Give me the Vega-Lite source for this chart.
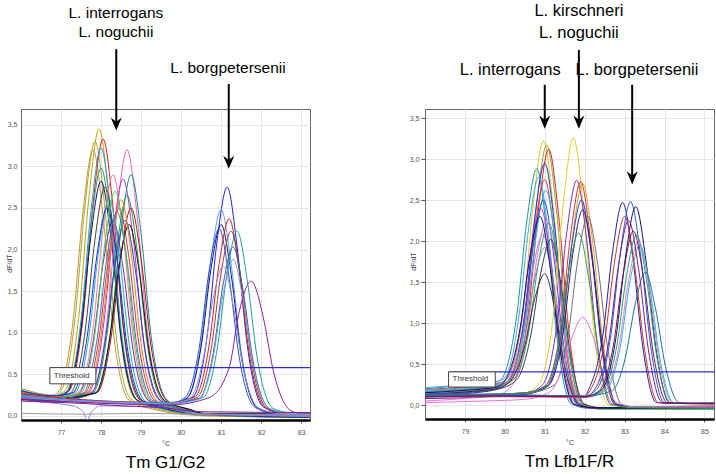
{
  "$schema": "https://vega.github.io/schema/vega-lite/v6.json",
  "background": "white",
  "padding": {"left": 4, "top": 2, "right": 0, "bottom": 0},
  "config": {
    "font": "Liberation Sans",
    "view": {"stroke": "#6a6a6a", "strokeWidth": 1},
    "axis": {"labelFont": "Liberation Sans", "labelFontSize": 7, "labelColor": "#555555", "gridColor": "#e6e6e6", "gridWidth": 1, "tickColor": "#555555", "domainColor": "#6a6a6a", "titleFont": "Liberation Sans", "titleFontWeight": "normal", "titleFontSize": 7, "titleColor": "#444444"}
  },
  "resolve": {"scale": {"color": "independent"}},
  "spacing": 115,
  "bounds": "flush",
  "datasets": {
    "L": [
      {"c":"a1","x":76.0,"y":0.30},{"c":"a1","x":76.8,"y":0.24},{"c":"a1","x":77.10,"y":0.30},{"c":"a1","x":77.45,"y":1.22},{"c":"a1","x":77.70,"y":2.64},{"c":"a1","x":77.95,"y":3.45},{"c":"a1","x":78.20,"y":2.59},{"c":"a1","x":78.45,"y":1.12},{"c":"a1","x":78.85,"y":0.20},{"c":"a1","x":79.45,"y":0.09},{"c":"a1","x":80.6,"y":0.02},{"c":"a1","x":83.22,"y":0.0},
      {"c":"a2","x":76.0,"y":0.28},{"c":"a2","x":76.8,"y":0.23},{"c":"a2","x":77.00,"y":0.30},{"c":"a2","x":77.35,"y":1.17},{"c":"a2","x":77.60,"y":2.53},{"c":"a2","x":77.85,"y":3.30},{"c":"a2","x":78.10,"y":2.48},{"c":"a2","x":78.35,"y":1.07},{"c":"a2","x":78.75,"y":0.20},{"c":"a2","x":79.35,"y":0.09},{"c":"a2","x":80.6,"y":0.01},{"c":"a2","x":83.22,"y":0.0},
      {"c":"a3","x":76.0,"y":0.33},{"c":"a3","x":76.8,"y":0.25},{"c":"a3","x":76.95,"y":0.30},{"c":"a3","x":77.30,"y":1.14},{"c":"a3","x":77.55,"y":2.46},{"c":"a3","x":77.80,"y":3.20},{"c":"a3","x":78.05,"y":2.41},{"c":"a3","x":78.30,"y":1.04},{"c":"a3","x":78.70,"y":0.19},{"c":"a3","x":79.30,"y":0.08},{"c":"a3","x":80.6,"y":0.0},{"c":"a3","x":83.22,"y":-0.02},
      {"c":"a4","x":76.0,"y":0.27},{"c":"a4","x":76.8,"y":0.22},{"c":"a4","x":77.20,"y":0.30},{"c":"a4","x":77.55,"y":1.18},{"c":"a4","x":77.80,"y":2.55},{"c":"a4","x":78.05,"y":3.33},{"c":"a4","x":78.30,"y":2.50},{"c":"a4","x":78.55,"y":1.08},{"c":"a4","x":78.95,"y":0.20},{"c":"a4","x":79.55,"y":0.09},{"c":"a4","x":80.6,"y":0.02},{"c":"a4","x":83.22,"y":0.01},
      {"c":"a5","x":76.0,"y":0.25},{"c":"a5","x":76.8,"y":0.21},{"c":"a5","x":77.15,"y":0.30},{"c":"a5","x":77.50,"y":1.15},{"c":"a5","x":77.75,"y":2.47},{"c":"a5","x":78.00,"y":3.22},{"c":"a5","x":78.25,"y":2.42},{"c":"a5","x":78.50,"y":1.05},{"c":"a5","x":78.90,"y":0.19},{"c":"a5","x":79.50,"y":0.09},{"c":"a5","x":80.6,"y":0.02},{"c":"a5","x":83.22,"y":0.02},
      {"c":"a6","x":76.0,"y":0.31},{"c":"a6","x":76.8,"y":0.24},{"c":"a6","x":77.15,"y":0.29},{"c":"a6","x":77.50,"y":1.08},{"c":"a6","x":77.75,"y":2.30},{"c":"a6","x":78.00,"y":2.98},{"c":"a6","x":78.25,"y":2.25},{"c":"a6","x":78.50,"y":0.98},{"c":"a6","x":78.90,"y":0.19},{"c":"a6","x":79.50,"y":0.09},{"c":"a6","x":80.6,"y":0.01},{"c":"a6","x":83.22,"y":-0.01},
      {"c":"a7","x":76.0,"y":0.26},{"c":"a7","x":76.8,"y":0.22},{"c":"a7","x":77.15,"y":0.28},{"c":"a7","x":77.50,"y":1.03},{"c":"a7","x":77.75,"y":2.18},{"c":"a7","x":78.00,"y":2.82},{"c":"a7","x":78.25,"y":2.13},{"c":"a7","x":78.50,"y":0.93},{"c":"a7","x":78.90,"y":0.19},{"c":"a7","x":79.50,"y":0.10},{"c":"a7","x":80.6,"y":0.02},{"c":"a7","x":83.22,"y":0.03},
      {"c":"a8","x":76.0,"y":0.22},{"c":"a8","x":76.8,"y":0.20},{"c":"a8","x":77.25,"y":0.28},{"c":"a8","x":77.60,"y":1.01},{"c":"a8","x":77.85,"y":2.13},{"c":"a8","x":78.10,"y":2.75},{"c":"a8","x":78.35,"y":2.08},{"c":"a8","x":78.60,"y":0.91},{"c":"a8","x":79.00,"y":0.19},{"c":"a8","x":79.60,"y":0.10},{"c":"a8","x":80.6,"y":0.02},{"c":"a8","x":83.22,"y":0.0},
      {"c":"a9","x":76.0,"y":0.24},{"c":"a9","x":76.8,"y":0.20},{"c":"a9","x":77.45,"y":0.29},{"c":"a9","x":77.80,"y":1.06},{"c":"a9","x":78.05,"y":2.24},{"c":"a9","x":78.30,"y":2.90},{"c":"a9","x":78.55,"y":2.19},{"c":"a9","x":78.80,"y":0.96},{"c":"a9","x":79.20,"y":0.19},{"c":"a9","x":79.80,"y":0.09},{"c":"a9","x":80.6,"y":0.02},{"c":"a9","x":83.22,"y":-0.01},
      {"c":"a10","x":76.0,"y":0.20},{"c":"a10","x":76.8,"y":0.18},{"c":"a10","x":77.80,"y":0.30},{"c":"a10","x":78.15,"y":1.14},{"c":"a10","x":78.40,"y":2.46},{"c":"a10","x":78.65,"y":3.20},{"c":"a10","x":78.90,"y":2.41},{"c":"a10","x":79.15,"y":1.04},{"c":"a10","x":79.55,"y":0.19},{"c":"a10","x":80.15,"y":0.07},{"c":"a10","x":80.6,"y":0.02},{"c":"a10","x":83.22,"y":0.0},
      {"c":"a11","x":76.0,"y":0.23},{"c":"a11","x":76.8,"y":0.19},{"c":"a11","x":77.70,"y":0.29},{"c":"a11","x":78.05,"y":1.04},{"c":"a11","x":78.30,"y":2.20},{"c":"a11","x":78.55,"y":2.85},{"c":"a11","x":78.80,"y":2.15},{"c":"a11","x":79.05,"y":0.94},{"c":"a11","x":79.45,"y":0.19},{"c":"a11","x":80.05,"y":0.08},{"c":"a11","x":80.6,"y":0.01},{"c":"a11","x":83.22,"y":0.01},
      {"c":"a12","x":76.0,"y":0.21},{"c":"a12","x":76.8,"y":0.17},{"c":"a12","x":77.90,"y":0.29},{"c":"a12","x":78.25,"y":1.06},{"c":"a12","x":78.50,"y":2.24},{"c":"a12","x":78.75,"y":2.90},{"c":"a12","x":79.00,"y":2.19},{"c":"a12","x":79.25,"y":0.96},{"c":"a12","x":79.65,"y":0.19},{"c":"a12","x":80.25,"y":0.06},{"c":"a12","x":80.6,"y":0.02},{"c":"a12","x":83.22,"y":0.02},
      {"c":"a13","x":76.0,"y":0.26},{"c":"a13","x":76.8,"y":0.21},{"c":"a13","x":77.80,"y":0.28},{"c":"a13","x":78.15,"y":0.98},{"c":"a13","x":78.40,"y":2.05},{"c":"a13","x":78.65,"y":2.65},{"c":"a13","x":78.90,"y":2.00},{"c":"a13","x":79.15,"y":0.88},{"c":"a13","x":79.55,"y":0.18},{"c":"a13","x":80.15,"y":0.07},{"c":"a13","x":80.6,"y":0.01},{"c":"a13","x":83.22,"y":-0.02},
      {"c":"a14","x":76.0,"y":0.28},{"c":"a14","x":76.8,"y":0.22},{"c":"a14","x":77.60,"y":0.28},{"c":"a14","x":77.95,"y":0.94},{"c":"a14","x":78.20,"y":1.94},{"c":"a14","x":78.45,"y":2.50},{"c":"a14","x":78.70,"y":1.89},{"c":"a14","x":78.95,"y":0.84},{"c":"a14","x":79.35,"y":0.18},{"c":"a14","x":79.95,"y":0.09},{"c":"a14","x":80.6,"y":0.02},{"c":"a14","x":83.22,"y":0.0},
      {"c":"a15","x":76.0,"y":0.24},{"c":"a15","x":76.8,"y":0.20},{"c":"a15","x":77.90,"y":0.28},{"c":"a15","x":78.25,"y":0.94},{"c":"a15","x":78.50,"y":1.94},{"c":"a15","x":78.75,"y":2.50},{"c":"a15","x":79.00,"y":1.89},{"c":"a15","x":79.25,"y":0.84},{"c":"a15","x":79.65,"y":0.18},{"c":"a15","x":80.25,"y":0.07},{"c":"a15","x":80.6,"y":0.02},{"c":"a15","x":83.22,"y":0.01},
      {"c":"a16","x":76.0,"y":0.20},{"c":"a16","x":76.8,"y":0.16},{"c":"a16","x":77.45,"y":0.27},{"c":"a16","x":77.80,"y":0.89},{"c":"a16","x":78.05,"y":1.83},{"c":"a16","x":78.30,"y":2.35},{"c":"a16","x":78.55,"y":1.78},{"c":"a16","x":78.80,"y":0.79},{"c":"a16","x":79.20,"y":0.18},{"c":"a16","x":79.80,"y":0.10},{"c":"a16","x":80.6,"y":0.02},{"c":"a16","x":83.22,"y":-0.01},
      {"c":"a17","x":76.0,"y":0.22},{"c":"a17","x":76.8,"y":0.18},{"c":"a17","x":77.75,"y":0.27},{"c":"a17","x":78.10,"y":0.89},{"c":"a17","x":78.35,"y":1.83},{"c":"a17","x":78.60,"y":2.35},{"c":"a17","x":78.85,"y":1.78},{"c":"a17","x":79.10,"y":0.79},{"c":"a17","x":79.50,"y":0.18},{"c":"a17","x":80.10,"y":0.08},{"c":"a17","x":80.6,"y":0.02},{"c":"a17","x":83.22,"y":0.02},
      {"c":"a18","x":76.0,"y":0.25},{"c":"a18","x":76.8,"y":0.21},{"c":"a18","x":77.85,"y":0.27},{"c":"a18","x":78.20,"y":0.88},{"c":"a18","x":78.45,"y":1.80},{"c":"a18","x":78.70,"y":2.30},{"c":"a18","x":78.95,"y":1.75},{"c":"a18","x":79.20,"y":0.78},{"c":"a18","x":79.60,"y":0.18},{"c":"a18","x":80.20,"y":0.08},{"c":"a18","x":80.6,"y":0.03},{"c":"a18","x":83.22,"y":0.03},
      {"c":"a19","x":76.0,"y":0.29},{"c":"a19","x":76.8,"y":0.23},{"c":"a19","x":77.65,"y":0.28},{"c":"a19","x":78.00,"y":0.97},{"c":"a19","x":78.25,"y":2.02},{"c":"a19","x":78.50,"y":2.60},{"c":"a19","x":78.75,"y":1.97},{"c":"a19","x":79.00,"y":0.87},{"c":"a19","x":79.40,"y":0.18},{"c":"a19","x":80.00,"y":0.09},{"c":"a19","x":80.6,"y":0.01},{"c":"a19","x":83.22,"y":-0.01},
      {"c":"a20","x":76.0,"y":0.27},{"c":"a20","x":76.8,"y":0.22},{"c":"a20","x":77.35,"y":0.28},{"c":"a20","x":77.70,"y":0.97},{"c":"a20","x":77.95,"y":2.02},{"c":"a20","x":78.20,"y":2.60},{"c":"a20","x":78.45,"y":1.97},{"c":"a20","x":78.70,"y":0.87},{"c":"a20","x":79.10,"y":0.18},{"c":"a20","x":79.70,"y":0.09},{"c":"a20","x":80.6,"y":0.02},{"c":"a20","x":83.22,"y":0.0},
      {"c":"a21","x":76.0,"y":0.23},{"c":"a21","x":76.8,"y":0.19},{"c":"a21","x":77.55,"y":0.27},{"c":"a21","x":77.90,"y":0.92},{"c":"a21","x":78.15,"y":1.91},{"c":"a21","x":78.40,"y":2.45},{"c":"a21","x":78.65,"y":1.86},{"c":"a21","x":78.90,"y":0.82},{"c":"a21","x":79.30,"y":0.18},{"c":"a21","x":79.90,"y":0.10},{"c":"a21","x":80.6,"y":0.02},{"c":"a21","x":83.22,"y":0.01},
      {"c":"a22","x":76.0,"y":0.30},{"c":"a22","x":76.8,"y":0.24},{"c":"a22","x":77.30,"y":0.28},{"c":"a22","x":77.65,"y":0.94},{"c":"a22","x":77.90,"y":1.94},{"c":"a22","x":78.15,"y":2.50},{"c":"a22","x":78.40,"y":1.89},{"c":"a22","x":78.65,"y":0.84},{"c":"a22","x":79.05,"y":0.18},{"c":"a22","x":79.65,"y":0.10},{"c":"a22","x":80.6,"y":0.02},{"c":"a22","x":83.22,"y":-0.02},
      {"c":"a23","x":76.0,"y":0.26},{"c":"a23","x":76.8,"y":0.21},{"c":"a23","x":77.50,"y":0.28},{"c":"a23","x":77.85,"y":1.00},{"c":"a23","x":78.10,"y":2.09},{"c":"a23","x":78.35,"y":2.70},{"c":"a23","x":78.60,"y":2.04},{"c":"a23","x":78.85,"y":0.90},{"c":"a23","x":79.25,"y":0.18},{"c":"a23","x":79.85,"y":0.09},{"c":"a23","x":80.6,"y":0.02},{"c":"a23","x":83.22,"y":0.0},
      {"c":"b1","x":76.0,"y":0.22},{"c":"b1","x":78.0,"y":0.17},{"c":"b1","x":79.7,"y":0.15},{"c":"b1","x":80.30,"y":0.23},{"c":"b1","x":80.65,"y":0.96},{"c":"b1","x":80.90,"y":2.11},{"c":"b1","x":81.15,"y":2.75},{"c":"b1","x":81.40,"y":2.03},{"c":"b1","x":81.65,"y":0.86},{"c":"b1","x":82.05,"y":0.11},{"c":"b1","x":82.55,"y":0.03},{"c":"b1","x":83.22,"y":0.03},
      {"c":"b2","x":76.0,"y":0.25},{"c":"b2","x":78.0,"y":0.18},{"c":"b2","x":79.7,"y":0.15},{"c":"b2","x":80.15,"y":0.22},{"c":"b2","x":80.50,"y":0.88},{"c":"b2","x":80.75,"y":1.91},{"c":"b2","x":81.00,"y":2.48},{"c":"b2","x":81.25,"y":1.83},{"c":"b2","x":81.50,"y":0.78},{"c":"b2","x":81.90,"y":0.10},{"c":"b2","x":82.40,"y":0.03},{"c":"b2","x":83.22,"y":0.02},
      {"c":"b3","x":76.0,"y":0.20},{"c":"b3","x":78.0,"y":0.16},{"c":"b3","x":79.7,"y":0.14},{"c":"b3","x":80.15,"y":0.21},{"c":"b3","x":80.50,"y":0.83},{"c":"b3","x":80.75,"y":1.78},{"c":"b3","x":81.00,"y":2.30},{"c":"b3","x":81.25,"y":1.70},{"c":"b3","x":81.50,"y":0.73},{"c":"b3","x":81.90,"y":0.10},{"c":"b3","x":82.40,"y":0.03},{"c":"b3","x":83.22,"y":0.04},
      {"c":"b4","x":76.0,"y":0.24},{"c":"b4","x":78.0,"y":0.17},{"c":"b4","x":79.7,"y":0.15},{"c":"b4","x":80.10,"y":0.22},{"c":"b4","x":80.45,"y":0.81},{"c":"b4","x":80.70,"y":1.74},{"c":"b4","x":80.95,"y":2.25},{"c":"b4","x":81.20,"y":1.66},{"c":"b4","x":81.45,"y":0.71},{"c":"b4","x":81.85,"y":0.10},{"c":"b4","x":82.35,"y":0.03},{"c":"b4","x":83.22,"y":0.03},
      {"c":"b5","x":76.0,"y":0.27},{"c":"b5","x":78.0,"y":0.18},{"c":"b5","x":79.7,"y":0.16},{"c":"b5","x":80.35,"y":0.23},{"c":"b5","x":80.70,"y":0.85},{"c":"b5","x":80.95,"y":1.83},{"c":"b5","x":81.20,"y":2.37},{"c":"b5","x":81.45,"y":1.75},{"c":"b5","x":81.70,"y":0.75},{"c":"b5","x":82.10,"y":0.10},{"c":"b5","x":82.60,"y":0.03},{"c":"b5","x":83.22,"y":0.02},
      {"c":"b6","x":76.0,"y":0.21},{"c":"b6","x":78.0,"y":0.16},{"c":"b6","x":79.7,"y":0.15},{"c":"b6","x":80.40,"y":0.22},{"c":"b6","x":80.75,"y":0.80},{"c":"b6","x":81.00,"y":1.72},{"c":"b6","x":81.25,"y":2.22},{"c":"b6","x":81.50,"y":1.64},{"c":"b6","x":81.75,"y":0.70},{"c":"b6","x":82.15,"y":0.09},{"c":"b6","x":82.65,"y":0.03},{"c":"b6","x":83.22,"y":0.03},
      {"c":"b7","x":76.0,"y":0.23},{"c":"b7","x":78.0,"y":0.17},{"c":"b7","x":79.7,"y":0.16},{"c":"b7","x":80.55,"y":0.22},{"c":"b7","x":80.90,"y":0.80},{"c":"b7","x":81.15,"y":1.72},{"c":"b7","x":81.40,"y":2.22},{"c":"b7","x":81.65,"y":1.64},{"c":"b7","x":81.90,"y":0.70},{"c":"b7","x":82.30,"y":0.09},{"c":"b7","x":82.80,"y":0.03},{"c":"b7","x":83.22,"y":0.02},
      {"c":"b8","x":76.0,"y":0.25},{"c":"b8","x":78.0,"y":0.17},{"c":"b8","x":79.7,"y":0.15},{"c":"b8","x":80.45,"y":0.21},{"c":"b8","x":80.80,"y":0.75},{"c":"b8","x":81.05,"y":1.58},{"c":"b8","x":81.30,"y":2.03},{"c":"b8","x":81.55,"y":1.50},{"c":"b8","x":81.80,"y":0.65},{"c":"b8","x":82.20,"y":0.09},{"c":"b8","x":82.70,"y":0.03},{"c":"b8","x":83.22,"y":0.03},
      {"c":"b9","x":76.0,"y":0.22},{"c":"b9","x":78.0,"y":0.16},{"c":"b9","x":79.7,"y":0.14},{"c":"b9","x":80.45,"y":0.20},{"c":"b9","x":80.80,"y":0.70},{"c":"b9","x":81.05,"y":1.47},{"c":"b9","x":81.30,"y":1.88},{"c":"b9","x":81.55,"y":1.39},{"c":"b9","x":81.80,"y":0.60},{"c":"b9","x":82.20,"y":0.09},{"c":"b9","x":82.70,"y":0.03},{"c":"b9","x":83.22,"y":0.02},
      {"c":"b10","x":76.0,"y":0.24},{"c":"b10","x":78.0,"y":0.17},{"c":"b10","x":79.7,"y":0.15},{"c":"b10","x":80.20,"y":0.20},{"c":"b10","x":80.55,"y":0.68},{"c":"b10","x":80.80,"y":1.41},{"c":"b10","x":81.05,"y":1.80},{"c":"b10","x":81.30,"y":1.33},{"c":"b10","x":81.55,"y":0.58},{"c":"b10","x":81.95,"y":0.09},{"c":"b10","x":82.45,"y":0.03},{"c":"b10","x":83.22,"y":0.02},
      {"c":"b11","x":76.0,"y":0.20},{"c":"b11","x":78.0,"y":0.15},{"c":"b11","x":79.7,"y":0.13},{"c":"b11","x":80.70,"y":0.22},{"c":"b11","x":81.20,"y":0.58},{"c":"b11","x":81.45,"y":1.25},{"c":"b11","x":81.75,"y":1.62},{"c":"b11","x":82.05,"y":1.19},{"c":"b11","x":82.30,"y":0.55},{"c":"b11","x":82.75,"y":0.06},{"c":"b11","x":83.0,"y":0.03},{"c":"b11","x":83.22,"y":0.03},
      {"c":"g1","x":76.0,"y":0.03},{"c":"g1","x":77.5,"y":0.02},{"c":"g1","x":79.0,"y":0.03},{"c":"g1","x":80.5,"y":0.02},{"c":"g1","x":83.22,"y":0.02},
      {"c":"g2","x":76.0,"y":0.18},{"c":"g2","x":77.3,"y":0.12},{"c":"g2","x":77.55,"y":0.05},{"c":"g2","x":77.65,"y":-0.05},{"c":"g2","x":77.75,"y":0.04},{"c":"g2","x":78.0,"y":0.12},{"c":"g2","x":79.5,"y":0.10},{"c":"g2","x":80.5,"y":0.02},{"c":"g2","x":83.22,"y":0.0},
      {"c":"g3","x":76.0,"y":0.18},{"c":"g3","x":77.5,"y":0.15},{"c":"g3","x":78.5,"y":0.12},{"c":"g3","x":79.5,"y":0.10},{"c":"g3","x":80.5,"y":0.05},{"c":"g3","x":83.22,"y":0.04}
    ],
    "R": [
      {"c":"p1","x":78.0,"y":0.18},{"c":"p1","x":79.0,"y":0.22},{"c":"p1","x":79.8,"y":0.26},{"c":"p1","x":80.12,"y":0.35},{"c":"p1","x":80.47,"y":1.20},{"c":"p1","x":80.72,"y":2.49},{"c":"p1","x":80.97,"y":3.22},{"c":"p1","x":81.22,"y":2.37},{"c":"p1","x":81.47,"y":0.95},{"c":"p1","x":81.82,"y":0.02},{"c":"p1","x":82.27,"y":-0.03},{"c":"p1","x":85.24,"y":-0.04},
      {"c":"p2","x":78.0,"y":0.16},{"c":"p2","x":79.0,"y":0.20},{"c":"p2","x":79.8,"y":0.24},{"c":"p2","x":80.20,"y":0.34},{"c":"p2","x":80.55,"y":1.19},{"c":"p2","x":80.80,"y":2.46},{"c":"p2","x":81.05,"y":3.17},{"c":"p2","x":81.30,"y":2.34},{"c":"p2","x":81.55,"y":0.94},{"c":"p2","x":81.90,"y":0.02},{"c":"p2","x":82.35,"y":-0.04},{"c":"p2","x":85.24,"y":-0.05},
      {"c":"p3","x":78.0,"y":0.15},{"c":"p3","x":79.0,"y":0.18},{"c":"p3","x":79.8,"y":0.22},{"c":"p3","x":80.25,"y":0.33},{"c":"p3","x":80.60,"y":1.17},{"c":"p3","x":80.85,"y":2.42},{"c":"p3","x":81.10,"y":3.12},{"c":"p3","x":81.35,"y":2.30},{"c":"p3","x":81.60,"y":0.92},{"c":"p3","x":81.95,"y":0.02},{"c":"p3","x":82.40,"y":-0.03},{"c":"p3","x":85.24,"y":-0.03},
      {"c":"p4","x":78.0,"y":0.20},{"c":"p4","x":79.0,"y":0.24},{"c":"p4","x":79.8,"y":0.28},{"c":"p4","x":79.95,"y":0.34},{"c":"p4","x":80.30,"y":1.10},{"c":"p4","x":80.55,"y":2.24},{"c":"p4","x":80.80,"y":2.88},{"c":"p4","x":81.05,"y":2.12},{"c":"p4","x":81.30,"y":0.85},{"c":"p4","x":81.65,"y":0.02},{"c":"p4","x":82.10,"y":-0.04},{"c":"p4","x":85.24,"y":-0.04},
      {"c":"p5","x":78.0,"y":0.13},{"c":"p5","x":79.0,"y":0.16},{"c":"p5","x":79.8,"y":0.21},{"c":"p5","x":80.15,"y":0.34},{"c":"p5","x":80.50,"y":1.12},{"c":"p5","x":80.75,"y":2.29},{"c":"p5","x":81.00,"y":2.95},{"c":"p5","x":81.25,"y":2.17},{"c":"p5","x":81.50,"y":0.87},{"c":"p5","x":81.85,"y":0.02},{"c":"p5","x":82.30,"y":-0.03},{"c":"p5","x":85.24,"y":-0.03},
      {"c":"p6","x":78.0,"y":0.21},{"c":"p6","x":79.0,"y":0.25},{"c":"p6","x":79.8,"y":0.29},{"c":"p6","x":80.00,"y":0.33},{"c":"p6","x":80.35,"y":1.07},{"c":"p6","x":80.60,"y":2.17},{"c":"p6","x":80.85,"y":2.78},{"c":"p6","x":81.10,"y":2.05},{"c":"p6","x":81.35,"y":0.82},{"c":"p6","x":81.70,"y":0.02},{"c":"p6","x":82.15,"y":-0.04},{"c":"p6","x":85.24,"y":-0.04},
      {"c":"p7","x":78.0,"y":0.14},{"c":"p7","x":79.0,"y":0.17},{"c":"p7","x":79.8,"y":0.22},{"c":"p7","x":80.15,"y":0.33},{"c":"p7","x":80.50,"y":1.06},{"c":"p7","x":80.75,"y":2.15},{"c":"p7","x":81.00,"y":2.75},{"c":"p7","x":81.25,"y":2.03},{"c":"p7","x":81.50,"y":0.81},{"c":"p7","x":81.85,"y":0.01},{"c":"p7","x":82.30,"y":-0.03},{"c":"p7","x":85.24,"y":-0.03},
      {"c":"p8","x":78.0,"y":0.17},{"c":"p8","x":79.0,"y":0.20},{"c":"p8","x":79.8,"y":0.24},{"c":"p8","x":80.18,"y":0.33},{"c":"p8","x":80.53,"y":1.02},{"c":"p8","x":80.78,"y":2.05},{"c":"p8","x":81.03,"y":2.62},{"c":"p8","x":81.28,"y":1.93},{"c":"p8","x":81.53,"y":0.77},{"c":"p8","x":81.88,"y":0.01},{"c":"p8","x":82.33,"y":-0.04},{"c":"p8","x":85.24,"y":-0.04},
      {"c":"p9","x":78.0,"y":0.12},{"c":"p9","x":79.0,"y":0.15},{"c":"p9","x":79.8,"y":0.20},{"c":"p9","x":80.12,"y":0.32},{"c":"p9","x":80.47,"y":0.99},{"c":"p9","x":80.72,"y":1.96},{"c":"p9","x":80.97,"y":2.50},{"c":"p9","x":81.22,"y":1.84},{"c":"p9","x":81.47,"y":0.74},{"c":"p9","x":81.82,"y":0.01},{"c":"p9","x":82.27,"y":-0.03},{"c":"p9","x":85.24,"y":-0.02},
      {"c":"p10","x":78.0,"y":0.19},{"c":"p10","x":79.0,"y":0.22},{"c":"p10","x":79.8,"y":0.26},{"c":"p10","x":80.05,"y":0.32},{"c":"p10","x":80.40,"y":0.96},{"c":"p10","x":80.65,"y":1.89},{"c":"p10","x":80.90,"y":2.40},{"c":"p10","x":81.15,"y":1.77},{"c":"p10","x":81.40,"y":0.71},{"c":"p10","x":81.75,"y":0.01},{"c":"p10","x":82.20,"y":-0.04},{"c":"p10","x":85.24,"y":-0.04},
      {"c":"p11","x":78.0,"y":0.05},{"c":"p11","x":79.0,"y":0.08},{"c":"p11","x":79.8,"y":0.12},{"c":"p11","x":80.20,"y":0.25},{"c":"p11","x":80.55,"y":0.85},{"c":"p11","x":80.80,"y":1.78},{"c":"p11","x":81.05,"y":2.25},{"c":"p11","x":81.30,"y":1.66},{"c":"p11","x":81.55,"y":0.66},{"c":"p11","x":81.90,"y":0.01},{"c":"p11","x":82.35,"y":-0.03},{"c":"p11","x":85.24,"y":-0.03},
      {"c":"p12","x":78.0,"y":0.16},{"c":"p12","x":79.0,"y":0.19},{"c":"p12","x":79.8,"y":0.23},{"c":"p12","x":80.25,"y":0.32},{"c":"p12","x":80.60,"y":0.90},{"c":"p12","x":80.85,"y":1.76},{"c":"p12","x":81.10,"y":2.22},{"c":"p12","x":81.35,"y":1.64},{"c":"p12","x":81.60,"y":0.65},{"c":"p12","x":81.95,"y":0.01},{"c":"p12","x":82.40,"y":-0.05},{"c":"p12","x":85.24,"y":-0.05},
      {"c":"p13","x":78.0,"y":0.14},{"c":"p13","x":79.0,"y":0.17},{"c":"p13","x":79.8,"y":0.21},{"c":"p13","x":80.10,"y":0.31},{"c":"p13","x":80.45,"y":0.86},{"c":"p13","x":80.70,"y":1.65},{"c":"p13","x":80.95,"y":2.08},{"c":"p13","x":81.20,"y":1.53},{"c":"p13","x":81.45,"y":0.61},{"c":"p13","x":81.80,"y":0.01},{"c":"p13","x":82.25,"y":-0.03},{"c":"p13","x":85.24,"y":-0.03},
      {"c":"p14","x":78.0,"y":0.11},{"c":"p14","x":79.0,"y":0.14},{"c":"p14","x":79.8,"y":0.19},{"c":"p14","x":80.30,"y":0.31},{"c":"p14","x":80.65,"y":0.85},{"c":"p14","x":80.90,"y":1.61},{"c":"p14","x":81.15,"y":2.02},{"c":"p14","x":81.40,"y":1.49},{"c":"p14","x":81.65,"y":0.60},{"c":"p14","x":82.00,"y":0.01},{"c":"p14","x":82.45,"y":-0.04},{"c":"p14","x":85.24,"y":-0.04},
      {"c":"p15","x":78.0,"y":0.18},{"c":"p15","x":79.0,"y":0.21},{"c":"p15","x":79.8,"y":0.25},{"c":"p15","x":80.15,"y":0.31},{"c":"p15","x":80.50,"y":0.82},{"c":"p15","x":80.75,"y":1.54},{"c":"p15","x":81.00,"y":1.92},{"c":"p15","x":81.25,"y":1.42},{"c":"p15","x":81.50,"y":0.57},{"c":"p15","x":81.85,"y":0.01},{"c":"p15","x":82.30,"y":-0.03},{"c":"p15","x":85.24,"y":-0.03},
      {"c":"p16","x":78.0,"y":0.13},{"c":"p16","x":79.0,"y":0.16},{"c":"p16","x":79.8,"y":0.20},{"c":"p16","x":80.15,"y":0.30},{"c":"p16","x":80.50,"y":0.72},{"c":"p16","x":80.75,"y":1.30},{"c":"p16","x":81.00,"y":1.60},{"c":"p16","x":81.25,"y":1.18},{"c":"p16","x":81.50,"y":0.47},{"c":"p16","x":81.85,"y":0.01},{"c":"p16","x":82.30,"y":-0.04},{"c":"p16","x":85.24,"y":-0.04},
      {"c":"p17","x":78.0,"y":0.15},{"c":"p17","x":79.0,"y":0.18},{"c":"p17","x":79.8,"y":0.22},{"c":"p17","x":80.03,"y":0.32},{"c":"p17","x":80.38,"y":0.93},{"c":"p17","x":80.63,"y":1.82},{"c":"p17","x":80.88,"y":2.30},{"c":"p17","x":81.13,"y":1.70},{"c":"p17","x":81.38,"y":0.68},{"c":"p17","x":81.73,"y":0.01},{"c":"p17","x":82.18,"y":-0.03},{"c":"p17","x":85.24,"y":-0.03},
      {"c":"q1","x":78.0,"y":0.10},{"c":"q1","x":79.5,"y":0.12},{"c":"q1","x":80.5,"y":0.15},{"c":"q1","x":80.87,"y":0.27},{"c":"q1","x":81.22,"y":1.11},{"c":"q1","x":81.47,"y":2.48},{"c":"q1","x":81.72,"y":3.26},{"c":"q1","x":81.97,"y":2.40},{"c":"q1","x":82.22,"y":0.96},{"c":"q1","x":82.57,"y":0.01},{"c":"q1","x":83.02,"y":-0.02},{"c":"q1","x":85.24,"y":-0.02},
      {"c":"q2","x":78.0,"y":0.09},{"c":"q2","x":79.5,"y":0.11},{"c":"q2","x":80.5,"y":0.14},{"c":"q2","x":80.95,"y":0.25},{"c":"q2","x":81.30,"y":0.96},{"c":"q2","x":81.55,"y":2.10},{"c":"q2","x":81.80,"y":2.74},{"c":"q2","x":82.05,"y":2.02},{"c":"q2","x":82.30,"y":0.81},{"c":"q2","x":82.65,"y":0.01},{"c":"q2","x":83.10,"y":-0.02},{"c":"q2","x":85.24,"y":-0.01},
      {"c":"q3","x":78.0,"y":0.11},{"c":"q3","x":79.5,"y":0.13},{"c":"q3","x":80.5,"y":0.15},{"c":"q3","x":81.05,"y":0.25},{"c":"q3","x":81.40,"y":0.95},{"c":"q3","x":81.65,"y":2.08},{"c":"q3","x":81.90,"y":2.72},{"c":"q3","x":82.15,"y":2.00},{"c":"q3","x":82.40,"y":0.80},{"c":"q3","x":82.75,"y":0.01},{"c":"q3","x":83.20,"y":-0.02},{"c":"q3","x":85.24,"y":-0.02},
      {"c":"q4","x":78.0,"y":0.10},{"c":"q4","x":79.5,"y":0.12},{"c":"q4","x":80.5,"y":0.14},{"c":"q4","x":81.10,"y":0.25},{"c":"q4","x":81.45,"y":0.95},{"c":"q4","x":81.70,"y":2.07},{"c":"q4","x":81.95,"y":2.70},{"c":"q4","x":82.20,"y":1.99},{"c":"q4","x":82.45,"y":0.80},{"c":"q4","x":82.80,"y":0.01},{"c":"q4","x":83.25,"y":-0.02},{"c":"q4","x":85.24,"y":-0.02},
      {"c":"q5","x":78.0,"y":0.12},{"c":"q5","x":79.5,"y":0.13},{"c":"q5","x":80.5,"y":0.15},{"c":"q5","x":81.07,"y":0.24},{"c":"q5","x":81.42,"y":0.89},{"c":"q5","x":81.67,"y":1.92},{"c":"q5","x":81.92,"y":2.50},{"c":"q5","x":82.17,"y":1.84},{"c":"q5","x":82.42,"y":0.74},{"c":"q5","x":82.77,"y":0.01},{"c":"q5","x":83.22,"y":-0.02},{"c":"q5","x":85.24,"y":-0.02},
      {"c":"q6","x":78.0,"y":0.08},{"c":"q6","x":79.5,"y":0.10},{"c":"q6","x":80.5,"y":0.13},{"c":"q6","x":81.10,"y":0.24},{"c":"q6","x":81.45,"y":0.85},{"c":"q6","x":81.70,"y":1.83},{"c":"q6","x":81.95,"y":2.38},{"c":"q6","x":82.20,"y":1.75},{"c":"q6","x":82.45,"y":0.70},{"c":"q6","x":82.80,"y":0.01},{"c":"q6","x":83.25,"y":-0.02},{"c":"q6","x":85.24,"y":-0.02},
      {"c":"q7","x":78.0,"y":0.11},{"c":"q7","x":79.5,"y":0.12},{"c":"q7","x":80.5,"y":0.14},{"c":"q7","x":81.23,"y":0.24},{"c":"q7","x":81.58,"y":0.83},{"c":"q7","x":81.83,"y":1.78},{"c":"q7","x":82.08,"y":2.30},{"c":"q7","x":82.33,"y":1.70},{"c":"q7","x":82.58,"y":0.68},{"c":"q7","x":82.93,"y":0.01},{"c":"q7","x":83.38,"y":-0.03},{"c":"q7","x":85.24,"y":-0.03},
      {"c":"q8","x":78.0,"y":0.03},{"c":"q8","x":79.5,"y":0.05},{"c":"q8","x":80.5,"y":0.07},{"c":"q8","x":81.10,"y":0.15},{"c":"q8","x":81.45,"y":0.45},{"c":"q8","x":81.70,"y":0.85},{"c":"q8","x":81.95,"y":1.07},{"c":"q8","x":82.20,"y":0.85},{"c":"q8","x":82.45,"y":0.40},{"c":"q8","x":82.80,"y":0.03},{"c":"q8","x":83.25,"y":-0.02},{"c":"q8","x":85.24,"y":-0.02},
      {"c":"q9","x":78.0,"y":0.12},{"c":"q9","x":79.5,"y":0.13},{"c":"q9","x":80.5,"y":0.15},{"c":"q9","x":81.00,"y":0.23},{"c":"q9","x":81.35,"y":0.77},{"c":"q9","x":81.60,"y":1.63},{"c":"q9","x":81.85,"y":2.10},{"c":"q9","x":82.10,"y":1.55},{"c":"q9","x":82.35,"y":0.62},{"c":"q9","x":82.70,"y":0.01},{"c":"q9","x":83.15,"y":-0.03},{"c":"q9","x":85.24,"y":-0.04},
      {"c":"r1","x":78.0,"y":0.12},{"c":"r1","x":80.0,"y":0.12},{"c":"r1","x":82.0,"y":0.10},{"c":"r1","x":82.10,"y":0.19},{"c":"r1","x":82.45,"y":0.83},{"c":"r1","x":82.70,"y":1.87},{"c":"r1","x":82.95,"y":2.47},{"c":"r1","x":83.20,"y":1.82},{"c":"r1","x":83.45,"y":0.73},{"c":"r1","x":83.80,"y":0.03},{"c":"r1","x":84.25,"y":0.02},{"c":"r1","x":85.24,"y":0.02},
      {"c":"r2","x":78.0,"y":0.14},{"c":"r2","x":80.0,"y":0.13},{"c":"r2","x":82.0,"y":0.11},{"c":"r2","x":82.30,"y":0.19},{"c":"r2","x":82.65,"y":0.83},{"c":"r2","x":82.90,"y":1.88},{"c":"r2","x":83.15,"y":2.48},{"c":"r2","x":83.40,"y":1.83},{"c":"r2","x":83.65,"y":0.73},{"c":"r2","x":84.00,"y":0.03},{"c":"r2","x":84.45,"y":0.02},{"c":"r2","x":85.24,"y":0.02},
      {"c":"r3","x":78.0,"y":0.10},{"c":"r3","x":80.0,"y":0.11},{"c":"r3","x":82.0,"y":0.10},{"c":"r3","x":82.43,"y":0.19},{"c":"r3","x":82.78,"y":0.81},{"c":"r3","x":83.03,"y":1.83},{"c":"r3","x":83.28,"y":2.42},{"c":"r3","x":83.53,"y":1.78},{"c":"r3","x":83.78,"y":0.71},{"c":"r3","x":84.13,"y":0.03},{"c":"r3","x":84.58,"y":0.02},{"c":"r3","x":85.24,"y":0.03},
      {"c":"r4","x":78.0,"y":0.13},{"c":"r4","x":80.0,"y":0.12},{"c":"r4","x":82.0,"y":0.11},{"c":"r4","x":82.15,"y":0.19},{"c":"r4","x":82.50,"y":0.78},{"c":"r4","x":82.75,"y":1.75},{"c":"r4","x":83.00,"y":2.30},{"c":"r4","x":83.25,"y":1.70},{"c":"r4","x":83.50,"y":0.68},{"c":"r4","x":83.85,"y":0.03},{"c":"r4","x":84.30,"y":0.02},{"c":"r4","x":85.24,"y":0.01},
      {"c":"r5","x":78.0,"y":0.11},{"c":"r5","x":80.0,"y":0.11},{"c":"r5","x":82.0,"y":0.10},{"c":"r5","x":82.45,"y":0.18},{"c":"r5","x":82.80,"y":0.71},{"c":"r5","x":83.05,"y":1.58},{"c":"r5","x":83.30,"y":2.07},{"c":"r5","x":83.55,"y":1.53},{"c":"r5","x":83.80,"y":0.61},{"c":"r5","x":84.15,"y":0.03},{"c":"r5","x":84.60,"y":0.02},{"c":"r5","x":85.24,"y":0.02},
      {"c":"r6","x":78.0,"y":0.09},{"c":"r6","x":80.0,"y":0.10},{"c":"r6","x":82.0,"y":0.09},{"c":"r6","x":82.50,"y":0.18},{"c":"r6","x":82.85,"y":0.69},{"c":"r6","x":83.10,"y":1.52},{"c":"r6","x":83.35,"y":2.00},{"c":"r6","x":83.60,"y":1.47},{"c":"r6","x":83.85,"y":0.59},{"c":"r6","x":84.20,"y":0.03},{"c":"r6","x":84.65,"y":0.02},{"c":"r6","x":85.24,"y":0.02},
      {"c":"r7","x":78.0,"y":0.12},{"c":"r7","x":80.0,"y":0.12},{"c":"r7","x":82.0,"y":0.10},{"c":"r7","x":82.53,"y":0.18},{"c":"r7","x":82.88,"y":0.68},{"c":"r7","x":83.13,"y":1.49},{"c":"r7","x":83.38,"y":1.95},{"c":"r7","x":83.63,"y":1.44},{"c":"r7","x":83.88,"y":0.58},{"c":"r7","x":84.23,"y":0.03},{"c":"r7","x":84.68,"y":0.02},{"c":"r7","x":85.24,"y":0.03},
      {"c":"r8","x":78.0,"y":0.13},{"c":"r8","x":80.0,"y":0.12},{"c":"r8","x":82.0,"y":0.11},{"c":"r8","x":82.67,"y":0.17},{"c":"r8","x":83.02,"y":0.58},{"c":"r8","x":83.27,"y":1.24},{"c":"r8","x":83.52,"y":1.62},{"c":"r8","x":83.77,"y":1.19},{"c":"r8","x":84.02,"y":0.48},{"c":"r8","x":84.37,"y":0.03},{"c":"r8","x":84.82,"y":0.02},{"c":"r8","x":85.24,"y":0.02},
      {"c":"r9","x":78.0,"y":0.10},{"c":"r9","x":80.0,"y":0.11},{"c":"r9","x":82.0,"y":0.10},{"c":"r9","x":82.25,"y":0.19},{"c":"r9","x":82.60,"y":0.76},{"c":"r9","x":82.85,"y":1.71},{"c":"r9","x":83.10,"y":2.25},{"c":"r9","x":83.35,"y":1.66},{"c":"r9","x":83.60,"y":0.66},{"c":"r9","x":83.95,"y":0.03},{"c":"r9","x":84.40,"y":0.02},{"c":"r9","x":85.24,"y":0.02},
      {"c":"r10","x":78.0,"y":0.11},{"c":"r10","x":80.0,"y":0.11},{"c":"r10","x":82.0,"y":0.10},{"c":"r10","x":82.37,"y":0.18},{"c":"r10","x":82.72,"y":0.73},{"c":"r10","x":82.97,"y":1.61},{"c":"r10","x":83.22,"y":2.12},{"c":"r10","x":83.47,"y":1.56},{"c":"r10","x":83.72,"y":0.63},{"c":"r10","x":84.07,"y":0.03},{"c":"r10","x":84.52,"y":0.02},{"c":"r10","x":85.24,"y":0.02}
    ]
  },
  "hconcat": [
    {
      "width": 289,
      "height": 311,
      "title": {"text": "Tm G1/G2", "orient": "bottom", "fontSize": 17, "fontWeight": "normal", "font": "Liberation Sans", "color": "#000000", "offset": 9},
      "layer": [
        {
          "data": {"name": "L"},
          "mark": {"type": "line", "interpolate": "monotone", "strokeWidth": 1, "clip": true},
          "encoding": {
            "x": {"field": "x", "type": "quantitative", "scale": {"domain": [76.0, 83.22], "nice": false, "zero": false},
              "axis": {"values": [77, 78, 79, 80, 81, 82, 83], "format": "d", "title": "°C", "domainColor": "#000000", "domainWidth": 2.5, "tickSize": 3, "labelPadding": 5, "titlePadding": 4}},
            "y": {"field": "y", "type": "quantitative", "scale": {"domain": [-0.05, 3.69], "nice": false, "zero": false},
              "axis": {"values": [0, 0.5, 1, 1.5, 2, 2.5, 3, 3.5], "labelExpr": "replace(format(datum.value, '.1f'), '.', ',')", "title": "dF/dT", "tickSize": 0, "labelPadding": 4, "titleX": -12, "titleY": 154, "titleAngle": 270, "titleAlign": "center", "titleBaseline": "middle"}},
            "color": {"field": "c", "type": "nominal", "legend": null,
              "scale": {
                "domain": ["a1","a2","a3","a4","a5","a6","a7","a8","a9","a10","a11","a12","a13","a14","a15","a16","a17","a18","a19","a20","a21","a22","a23","b1","b2","b3","b4","b5","b6","b7","b8","b9","b10","b11","g1","g2","g3"],
                "range": ["#bfa500","#a8a832","#c8903c","#e02020","#3090e0","#20a070","#101070","#404040","#f08090","#f060c8","#c030d0","#208888","#20a040","#e03030","#a01818","#7030a0","#2040d0","#111111","#e08020","#20b0c0","#4070c0","#1030e0","#50c060","#2020e0","#60a0f0","#101080","#3050d0","#d02020","#a04040","#20a0a0","#406090","#70a0e0","#9090e0","#9020a0","#999999","#9080e0","#802090"]
              }}
          }
        },
        {
          "data": {"values": [{"x": 76.72, "x2": 83.22, "y": 0.58}]},
          "mark": {"type": "rule", "stroke": "#2c2cd6", "strokeWidth": 1.2},
          "encoding": {"x": {"field": "x", "type": "quantitative"}, "x2": {"field": "x2"}, "y": {"field": "y", "type": "quantitative"}}
        },
        {
          "data": {"values": [{"x": 76.72, "x2": 77.87, "y": 0.385, "y2": 0.58}]},
          "mark": {"type": "rect", "fill": "white", "stroke": "#444444", "strokeWidth": 1},
          "encoding": {"x": {"field": "x", "type": "quantitative"}, "x2": {"field": "x2"}, "y": {"field": "y", "type": "quantitative"}, "y2": {"field": "y2"}}
        },
        {
          "data": {"values": [{"x": 76.82, "y": 0.48, "t": "Threshold"}]},
          "mark": {"type": "text", "align": "left", "baseline": "middle", "fontSize": 8, "color": "#333333"},
          "encoding": {"x": {"field": "x", "type": "quantitative"}, "y": {"field": "y", "type": "quantitative"}, "text": {"field": "t"}}
        },
        {
          "data": {"values": [{"x": 78.38, "y": 4.41, "y2": 3.51}, {"x": 81.19, "y": 3.99, "y2": 3.05}]},
          "mark": {"type": "rule", "color": "#000000", "strokeWidth": 2},
          "encoding": {"x": {"field": "x", "type": "quantitative"}, "y": {"field": "y", "type": "quantitative"}, "y2": {"field": "y2"}}
        },
        {
          "data": {"values": [{"x": 78.38, "y": 3.51}, {"x": 81.19, "y": 3.05}]},
          "mark": {"type": "point", "shape": "M-0.85,-1 L0,1 L0.85,-1 L0,-0.35 Z", "filled": true, "color": "#000000", "opacity": 1, "size": 170, "strokeWidth": 0},
          "encoding": {"x": {"field": "x", "type": "quantitative"}, "y": {"field": "y", "type": "quantitative"}}
        },
        {
          "data": {"values": [{"x": 78.37, "y": 4.786, "t": "L. interrogans"}, {"x": 78.37, "y": 4.552, "t": "L. noguchii"}, {"x": 81.17, "y": 4.12, "t": "L. borgpetersenii"}]},
          "mark": {"type": "text", "align": "center", "baseline": "alphabetic", "fontSize": 15.5, "font": "Liberation Sans", "color": "#000000"},
          "encoding": {"x": {"field": "x", "type": "quantitative"}, "y": {"field": "y", "type": "quantitative"}, "text": {"field": "t"}}
        }
      ]
    },
    {
      "width": 289,
      "height": 310,
      "title": {"text": "Tm Lfb1F/R", "orient": "bottom", "fontSize": 17, "fontWeight": "normal", "font": "Liberation Sans", "color": "#000000", "offset": 9},
      "layer": [
        {
          "data": {"name": "R"},
          "mark": {"type": "line", "interpolate": "monotone", "strokeWidth": 1, "clip": true},
          "encoding": {
            "x": {"field": "x", "type": "quantitative", "scale": {"domain": [78.0, 85.24], "nice": false, "zero": false},
              "axis": {"values": [79, 80, 81, 82, 83, 84, 85], "format": "d", "title": "°C", "domainColor": "#000000", "domainWidth": 2.5, "tickSize": 3, "labelPadding": 5, "titlePadding": 4}},
            "y": {"field": "y", "type": "quantitative", "scale": {"domain": [-0.17, 3.61], "nice": false, "zero": false},
              "axis": {"values": [0, 0.5, 1, 1.5, 2, 2.5, 3, 3.5], "labelExpr": "replace(format(datum.value, '.1f'), '.', ',')", "title": "dF/dT", "tickSize": 4, "labelPadding": 2, "titleX": -12, "titleY": 152, "titleAngle": 270, "titleAlign": "center", "titleBaseline": "middle"}},
            "color": {"field": "c", "type": "nominal", "legend": null,
              "scale": {
                "domain": ["p1","p2","p3","p4","p5","p6","p7","p8","p9","p10","p11","p12","p13","p14","p15","p16","p17","q1","q2","q3","q4","q5","q6","q7","q8","q9","r1","r2","r3","r4","r5","r6","r7","r8","r9","r10"],
                "range": ["#d8c820","#90a040","#e02020","#2090a0","#2030d0","#40a8e0","#e83040","#20b8d8","#3048e8","#c040c0","#f070d0","#30a080","#a080e0","#304050","#8a8a8a","#303030","#101070","#e0d020","#8030b0","#e03030","#e0a030","#2040d0","#202080","#707070","#f070e0","#30a050","#2020a0","#2060e0","#101070","#d03030","#20a080","#e080c0","#40b0d0","#2070a0","#702090","#801040"]
              }}
          }
        },
        {
          "data": {"values": [{"x": 78.59, "x2": 85.24, "y": 0.405}]},
          "mark": {"type": "rule", "stroke": "#2c2cd6", "strokeWidth": 1.2},
          "encoding": {"x": {"field": "x", "type": "quantitative"}, "x2": {"field": "x2"}, "y": {"field": "y", "type": "quantitative"}}
        },
        {
          "data": {"values": [{"x": 78.59, "x2": 79.76, "y": 0.22, "y2": 0.405}]},
          "mark": {"type": "rect", "fill": "white", "stroke": "#444444", "strokeWidth": 1},
          "encoding": {"x": {"field": "x", "type": "quantitative"}, "x2": {"field": "x2"}, "y": {"field": "y", "type": "quantitative"}, "y2": {"field": "y2"}}
        },
        {
          "data": {"values": [{"x": 78.69, "y": 0.315, "t": "Threshold"}]},
          "mark": {"type": "text", "align": "left", "baseline": "middle", "fontSize": 8, "color": "#333333"},
          "encoding": {"x": {"field": "x", "type": "quantitative"}, "y": {"field": "y", "type": "quantitative"}, "text": {"field": "t"}}
        },
        {
          "data": {"values": [{"x": 81.855, "y": 4.33, "y2": 3.45}, {"x": 81.0, "y": 3.906, "y2": 3.45}, {"x": 83.19, "y": 3.906, "y2": 2.77}]},
          "mark": {"type": "rule", "color": "#000000", "strokeWidth": 2},
          "encoding": {"x": {"field": "x", "type": "quantitative"}, "y": {"field": "y", "type": "quantitative"}, "y2": {"field": "y2"}}
        },
        {
          "data": {"values": [{"x": 81.855, "y": 3.45}, {"x": 81.0, "y": 3.45}, {"x": 83.19, "y": 2.77}]},
          "mark": {"type": "point", "shape": "M-0.85,-1 L0,1 L0.85,-1 L0,-0.35 Z", "filled": true, "color": "#000000", "opacity": 1, "size": 170, "strokeWidth": 0},
          "encoding": {"x": {"field": "x", "type": "quantitative"}, "y": {"field": "y", "type": "quantitative"}}
        },
        {
          "data": {"values": [{"x": 81.855, "y": 4.738, "t": "L. kirschneri"}, {"x": 81.855, "y": 4.474, "t": "L. noguchii"}, {"x": 80.135, "y": 4.028, "t": "L. interrogans"}, {"x": 83.31, "y": 4.028, "t": "L. borgpetersenii"}]},
          "mark": {"type": "text", "align": "center", "baseline": "alphabetic", "fontSize": 16.5, "font": "Liberation Sans", "color": "#000000"},
          "encoding": {"x": {"field": "x", "type": "quantitative"}, "y": {"field": "y", "type": "quantitative"}, "text": {"field": "t"}}
        }
      ]
    }
  ]
}
